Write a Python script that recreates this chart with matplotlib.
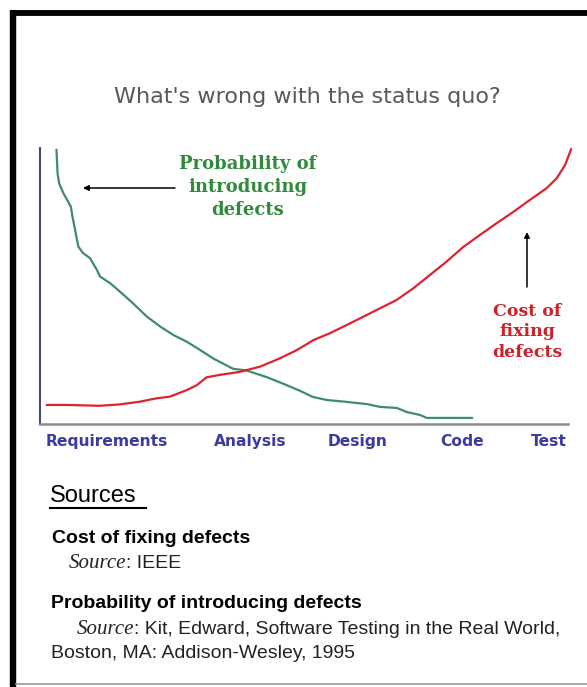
import matplotlib
matplotlib.use("Agg")
import matplotlib.pyplot as plt
from matplotlib.lines import Line2D

# ---------------- data ----------------
phases = ["Requirements", "Analysis", "Design", "Code", "Test"]
phase_pos = [12.6, 39.5, 59.6, 79.3, 95.7]

prob_x = [3.1, 3.3, 3.6, 4.4, 5.3, 5.8, 6.1, 6.6, 7.2, 8.1, 9.4, 10.7, 11.3, 13.2,
          15.0, 17.5, 20.1, 22.6, 25.1, 27.6, 30.1, 32.6, 36.3, 38.8, 42.6, 45.7,
          48.9, 51.3, 53.9, 57.7, 61.5, 63.9, 67.1, 69.0, 71.4, 72.7, 76.5, 81.2]
prob_y = [99.3, 90.8, 87.2, 83.6, 80.5, 78.7, 75.1, 70.3, 64.3, 61.9, 60.1, 55.8,
          53.4, 51.0, 48.0, 43.7, 38.9, 35.3, 32.2, 29.8, 26.8, 23.7, 20.0, 19.4,
          17.0, 14.6, 12.0, 9.8, 8.7, 8.0, 7.2, 6.2, 5.8, 4.3, 3.3, 2.2, 2.2, 2.2]

cost_x = [1.3, 5.0, 11.3, 15.0, 18.8, 21.9, 24.4, 27.6, 29.5, 31.3, 33.8, 37.6,
          41.4, 45.1, 48.3, 51.4, 54.5, 57.7, 60.8, 63.9, 67.0, 70.2, 73.3, 76.4,
          79.6, 82.7, 85.8, 89.0, 92.1, 95.2, 97.1, 98.7, 99.9]
cost_y = [6.9, 6.9, 6.6, 7.1, 8.1, 9.3, 9.9, 12.3, 14.1, 16.9, 17.8, 18.9, 20.8,
          23.8, 26.8, 30.4, 32.9, 35.9, 38.9, 41.9, 44.9, 49.2, 54.0, 58.8, 64.2,
          68.5, 72.7, 76.9, 81.2, 85.4, 89.0, 93.8, 99.9]

title = "What's wrong with the status quo?"
prob_label = "Probability of\nintroducing\ndefects"
cost_label = "Cost of\nfixing\ndefects"

W, H = 587, 687
fig = plt.figure(figsize=(W / 100, H / 100), dpi=100)
fig.patch.set_facecolor("white")

def fx(px):
    return px / W

def fy(py):
    return 1 - py / H

# frame borders
fig.add_artist(Line2D([fx(13), fx(13)], [fy(10), fy(687)], color="black", lw=4.6,
                      solid_capstyle="butt"))
fig.add_artist(Line2D([fx(10), fx(587)], [fy(12.5), fy(12.5)], color="black", lw=4.2,
                      solid_capstyle="butt"))
fig.add_artist(Line2D([fx(16), fx(587)], [fy(684), fy(684)], color="#999999", lw=1.2))

# axes
ax = fig.add_axes([fx(40), fy(424), fx(572) - fx(40), fy(148) - fy(424)])
ax.set_xlim(0, 100)
ax.set_ylim(0, 100)
ax.plot(prob_x, prob_y, color="#3f8c6c", lw=1.6)
ax.plot(cost_x, cost_y, color="#dc2332", lw=1.6)

for s in ["top", "right"]:
    ax.spines[s].set_visible(False)
ax.spines["left"].set_color("#4a4a70")
ax.spines["left"].set_linewidth(1.5)
ax.spines["bottom"].set_color("#8a8a8a")
ax.spines["bottom"].set_linewidth(1.8)
ax.spines["bottom"].set_bounds(0, 99.2)
ax.set_yticks([])
ax.set_xticks(phase_pos)
ax.set_xticklabels(phases, fontfamily="DejaVu Sans", fontweight="bold",
                   fontsize=11.2, color="#3b3ba0")
ax.tick_params(axis="x", length=0, pad=7)

# title
fig.text(fx(307), fy(97), title, ha="center", va="center", fontsize=16,
         family="DejaVu Sans", color="#585858")

# annotations
fig.text(fx(248), fy(187), prob_label, ha="center", va="center", fontsize=13,
         family="DejaVu Serif", fontweight="bold", color="#2f8a3c", linespacing=1.35)
ax.annotate("", xy=(fx(83), fy(188)), xytext=(fx(175), fy(188)),
            xycoords="figure fraction", textcoords="figure fraction",
            arrowprops=dict(arrowstyle="-|>", color="black", lw=1.1,
                            mutation_scale=8, shrinkA=0, shrinkB=0))
fig.text(fx(527), fy(332), cost_label, ha="center", va="center", fontsize=12.5,
         family="DejaVu Serif", fontweight="bold", color="#d02028", linespacing=1.3)
ax.annotate("", xy=(fx(527), fy(232)), xytext=(fx(527), fy(287)),
            xycoords="figure fraction", textcoords="figure fraction",
            arrowprops=dict(arrowstyle="-|>", color="black", lw=1.1,
                            mutation_scale=8, shrinkA=0, shrinkB=0))

# sources block
sans = "Liberation Sans"
serif = "Liberation Serif"
fig.text(fx(50), fy(502), "Sources", ha="left", va="baseline", fontsize=17,
         family=sans, color="black")
fig.add_artist(Line2D([fx(50), fx(146)], [fy(508), fy(508)], color="black", lw=1.5))
fig.text(fx(52), fy(543), "Cost of fixing defects", ha="left", va="baseline",
         fontsize=14, family=sans, fontweight="bold", color="black")
fig.text(fx(69), fy(568), "Source", ha="left", va="baseline", fontsize=15,
         family=serif, style="italic", color="#222222")
fig.text(fx(126), fy(568), ": IEEE", ha="left", va="baseline", fontsize=14,
         family=sans, color="#222222")
fig.text(fx(51), fy(608), "Probability of introducing defects", ha="left",
         va="baseline", fontsize=14, family=sans, fontweight="bold", color="black")
fig.text(fx(77), fy(634), "Source", ha="left", va="baseline", fontsize=15,
         family=serif, style="italic", color="#222222")
fig.text(fx(134), fy(634), ": Kit, Edward, Software Testing in the Real World,",
         ha="left", va="baseline", fontsize=14, family=sans, color="#222222")
fig.text(fx(51), fy(658), "Boston, MA: Addison-Wesley, 1995", ha="left",
         va="baseline", fontsize=14, family=sans, color="#222222")

fig.savefig("out.png", dpi=100, facecolor="white")
